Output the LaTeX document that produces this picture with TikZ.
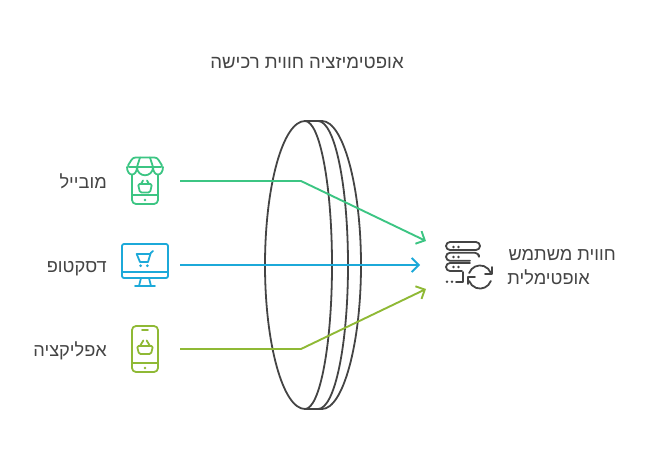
\documentclass[tikz,border=0pt]{standalone}
\usepackage{fontspec}
\usetikzlibrary{arrows.meta}
\setmainfont{Liberation Sans}
\newfontfamily\hebfont[Script=Hebrew]{Liberation Sans}
\TeXXeTstate=1
\definecolor{ink}{HTML}{444444}
\definecolor{gr}{HTML}{3CC583}
\definecolor{bl}{HTML}{1CA9D9}
\definecolor{ol}{HTML}{8FB935}
\tikzset{
  x=1pt,y=-1pt,
  lens/.style={draw=ink,line width=1.8pt,line join=round},
  conn/.style={line width=1.9pt,line join=round,-{Straight Barb[length=7pt,width=14pt,line width=1.9pt]}},
  ico/.style={line width=1.8pt,line join=round,line cap=round},
  lab/.style={inner sep=0pt,text=ink,font=\hebfont\fontsize{18.2}{25}\selectfont},
}
\begin{document}
\begin{tikzpicture}
\useasboundingbox (0,0) rectangle (650,458);
% lens
\draw[lens] (305,121) .. controls (283,121) and (265,186) .. (265,265) .. controls (265,344) and (283,409) .. (305,409)
  .. controls (320,409) and (332,344) .. (332,265) .. controls (332,186) and (320,121) .. (305,121) -- (322,121)
  .. controls (343,121) and (361,186) .. (361,265) .. controls (361,344) and (343,409) .. (322,409) -- (305,409);
\draw[lens] (318,121) .. controls (335,121) and (348,186) .. (348,265) .. controls (348,344) and (335,409) .. (318,409);
% anchors
\coordinate (g0) at (180,181); \coordinate (g1) at (301,181); \coordinate (g2) at (426,241);
\coordinate (b0) at (180,265); \coordinate (b2) at (420,265);
\coordinate (o0) at (180,349); \coordinate (o1) at (301,349); \coordinate (o2) at (426,289);
\draw[conn,gr] (g0) -- (g1) -- (g2);
\draw[conn,bl] (b0) -- (b2);
\draw[conn,ol] (o0) -- (o1) -- (o2);
% labels
\node[lab,anchor=base,font=\hebfont\fontsize{18.6}{25}\selectfont] (title) at (307,68) {\beginR אופטימיזציה חווית רכישה\endR};
\node[lab,anchor=base east] (lm) at (107,188) {\beginR מובייל\endR};
\node[lab,anchor=base east] (ld) at (107,272) {\beginR דסקטופ\endR};
\node[lab,anchor=base east] (la) at (107,356) {\beginR אפליקציה\endR};
\node[lab,anchor=base east] (l1) at (616,260) {\beginR חווית משתמש\endR};
\node[lab,anchor=base east] (l2) at (590,284) {\beginR אופטימלית\endR};
% icon: mobile shop
\begin{scope}[ico,gr]
\draw[rounded corners=4pt] (132,175) -- (132,204) -- (158,204) -- (158,175);
\draw (132,195) -- (158,195);
\fill (145,200) circle[radius=1.4];
\draw[rounded corners=2.5pt] (133,157.5) -- (157,157.5) -- (163,167) -- (127,167) -- cycle;
\draw (140,157.5) -- (137,167) (150,157.5) -- (153,167);
\draw (127,167) .. controls (127,177) and (137,177) .. (137,167)
      .. controls (137,178) and (153,178) .. (153,167)
      .. controls (153,177) and (163,177) .. (163,167);
\draw[rounded corners=1.5pt] (138,184) -- (152,184) -- (150,192.5) -- (140,192.5) -- cycle;
\draw (141,184) -- (143,180.5) (149,184) -- (147,180.5);
\end{scope}
% icon: desktop
\begin{scope}[ico,bl]
\draw[rounded corners=2pt] (122,244) rectangle (168,278);
\draw (122,272) -- (168,272);
\draw (141,278) -- (139,286) (149,278) -- (151,286) (135,286) -- (155,286);
\draw (153,251) -- (150.7,253) -- (148,262) -- (140,262) -- (136.7,254) -- (150.2,254);
\fill (140.7,265.7) circle[radius=1.5] (147.3,265.7) circle[radius=1.5];
\end{scope}
% icon: app
\begin{scope}[ico,ol]
\draw[rounded corners=4pt] (132,326) rectangle (158,372);
\draw (132,363) -- (158,363);
\draw (142,330) -- (148,330);
\fill (145,368) circle[radius=1.4];
\draw[rounded corners=1.5pt] (137,346) -- (153,346) -- (151,354) -- (139,354) -- cycle;
\draw (140,346) -- (143.3,340.5) (150,346) -- (146.7,340.5);
\end{scope}
% icon: optimal experience
\begin{scope}[ico,ink]
\draw[rounded corners=4pt] (446,242) rectangle (480,250);
\draw[rounded corners=4pt] (479,255) -- (479,252.8) -- (446,252.8) -- (446,260.8) -- (470,260.8);
\draw[rounded corners=4pt] (470,263) -- (446,263) -- (446,271) -- (462,271);
\fill (453.5,247) circle[radius=1.4] (458.5,247) circle[radius=1.4];
\fill (453.5,257) circle[radius=1.4] (458.5,257) circle[radius=1.4];
\fill (453.5,267) circle[radius=1.4] (458.5,267) circle[radius=1.4];
\fill (447,281.7) circle[radius=1.4] (452,281.7) circle[radius=1.4];
\draw (456,282) -- (463,282) -- (463,272);
\draw (469.2,273) arc[start angle=200,end angle=340,radius=11.5];
\draw (491.8,267) -- (491.8,274) -- (485,274);
\draw (490.8,281) arc[start angle=20,end angle=160,radius=11.5];
\draw (468.3,284) -- (468.3,277) -- (475,277);
\end{scope}
\end{tikzpicture}
\end{document}
